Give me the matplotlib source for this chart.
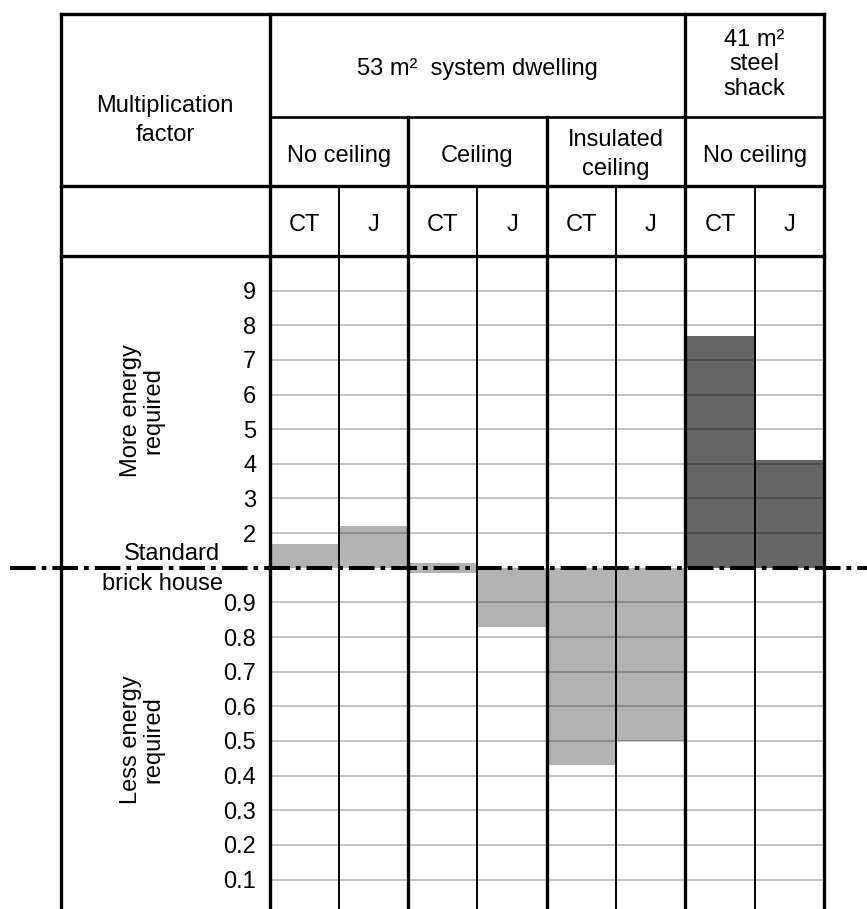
import numpy as np
import matplotlib
matplotlib.use("Agg")
import matplotlib.pyplot as plt
from matplotlib.transforms import blended_transform_factory

plt.rcParams['font.family'] = ['Liberation Sans', 'DejaVu Sans']
plt.rcParams['lines.scale_dashes'] = False

# ---------------- data ----------------
dwelling_labels = ["53 m\u00b2  system dwelling", "41 m\u00b2\nsteel\nshack"]
ceiling_labels = ["No ceiling", "Ceiling", "Insulated\nceiling", "No ceiling"]
climate_labels = ["CT", "J", "CT", "J", "CT", "J", "CT", "J"]
factor_low = [1.0, 1.0, 0.985, 0.83, 0.43, 0.50, 1.0, 1.0]
factor_high = [1.68, 2.22, 1.14, 1.0, 1.0, 1.0, 7.68, 4.12]
bar_colors = ["#b3b3b3"] * 6 + ["#666666"] * 2
upper_ticks = [2, 3, 4, 5, 6, 7, 8, 9]
lower_ticks = [0.1, 0.2, 0.3, 0.4, 0.5, 0.6, 0.7, 0.8, 0.9]
reference_value = 1.0

# ---------------- layout ----------------
W, H = 867, 909
FS = 17
fig = plt.figure(figsize=(W / 100, H / 100), dpi=100)
ax_left_px, ax_right_px, ax_top_px = 269.5, 824.0, 256.0
ax = fig.add_axes([ax_left_px / W, 0, (ax_right_px - ax_left_px) / W, (H - ax_top_px) / H])


def fwd(v):
    v = np.asarray(v, dtype=float)
    return np.where(v >= 1, v - 1, (v - 1) * 10)


def inv(p):
    p = np.asarray(p, dtype=float)
    return np.where(p >= 0, p + 1, p / 10 + 1)


ax.set_yscale('function', functions=(fwd, inv))
ax.set_ylim(0.015, 10)
ax.set_xlim(-0.5, 7.5)

x = np.arange(len(climate_labels))
ax.bar(x, np.subtract(factor_high, factor_low), bottom=factor_low, width=1.0,
       color=bar_colors, linewidth=0, zorder=1)

ticks = lower_ticks + upper_ticks
ax.set_yticks(ticks)
ax.set_yticklabels([f"{t:g}" for t in ticks])
ax.yaxis.set_minor_locator(matplotlib.ticker.NullLocator())
ax.tick_params(axis='y', length=0, pad=9.5, labelsize=FS)
ax.set_xticks([])
ax.set_axisbelow(False)
ax.grid(axis='y', color='black', alpha=0.3, linewidth=1.1)
for s in ax.spines.values():
    s.set_visible(False)

col_px = (ax_right_px - ax_left_px) / len(climate_labels)


def dx(px):
    return (px - ax_left_px) / col_px - 0.5


def fy(px):
    return 1 - px / H


# reference dash-dot line
ax.axhline(reference_value, xmin=(10 - ax_left_px) / (ax_right_px - ax_left_px),
           xmax=(W - ax_left_px) / (ax_right_px - ax_left_px),
           color='black', lw=2.9, dashes=(18.5, 4.3, 3.4, 4.3), clip_on=False, zorder=6)

tr = blended_transform_factory(ax.transData, fig.transFigure)
thick, mid, thin = 2.4, 1.9, 1.4
xl = dx(61)


def hline(y, x0, x1, lw):
    fig.add_artist(plt.Line2D([x0, x1], [fy(y), fy(y)], transform=tr, color='black',
                              lw=lw, solid_capstyle='projecting'))


def vline(xv, y0, y1, lw):
    fig.add_artist(plt.Line2D([xv, xv], [fy(y0), fy(y1)], transform=tr, color='black',
                              lw=lw, solid_capstyle='projecting'))


hline(13.5, xl, 7.5, thick)
hline(117, -0.5, 7.5, mid)
hline(186, xl, 7.5, thick)
hline(256, xl, 7.5, thick)
vline(xl, 13.5, H + 5, thick)
vline(-0.5, 13.5, H + 5, thick)
vline(1.5, 117, H + 5, thick)
vline(3.5, 117, H + 5, thick)
vline(5.5, 13.5, H + 5, thick)
vline(7.5, 13.5, H + 5, thick)
for xv in (0.5, 2.5, 4.5, 6.5):
    vline(xv, 186, H + 5, thin)


def txt(xd, ypx, s, **kw):
    kw.setdefault('ha', 'center')
    kw.setdefault('va', 'baseline')
    fig.text(xd, fy(ypx), s, transform=tr, fontsize=FS, **kw)


# header texts
label_center = (xl - 0.5) / 2
txt(label_center, 112, "Multiplication")
txt(label_center, 141, "factor")
txt(2.5, 75, dwelling_labels[0])
for s, yb in zip(dwelling_labels[1].split("\n"), (46, 70.5, 95)):
    txt(6.5, yb, s)
group_centers = [0.5, 2.5, 4.5, 6.5]
for c, lab in zip(group_centers, ceiling_labels):
    parts = lab.split("\n")
    if len(parts) == 1:
        txt(c, 161.7, lab)
    else:
        txt(c, 146.5, parts[0])
        txt(c, 175, parts[1])
for xi, lab in zip(x, climate_labels):
    txt(xi, 231, lab)

# side labels
txt(dx(172), 560, "Standard")
txt(dx(162.5), 590, "brick house")
txt(dx(142), 411, "More energy\nrequired", rotation=90, va='center',
    multialignment='center', linespacing=1.05)
txt(dx(142), 740, "Less energy\nrequired", rotation=90, va='center',
    multialignment='center', linespacing=1.05)

fig.savefig("out.png", dpi=100)
